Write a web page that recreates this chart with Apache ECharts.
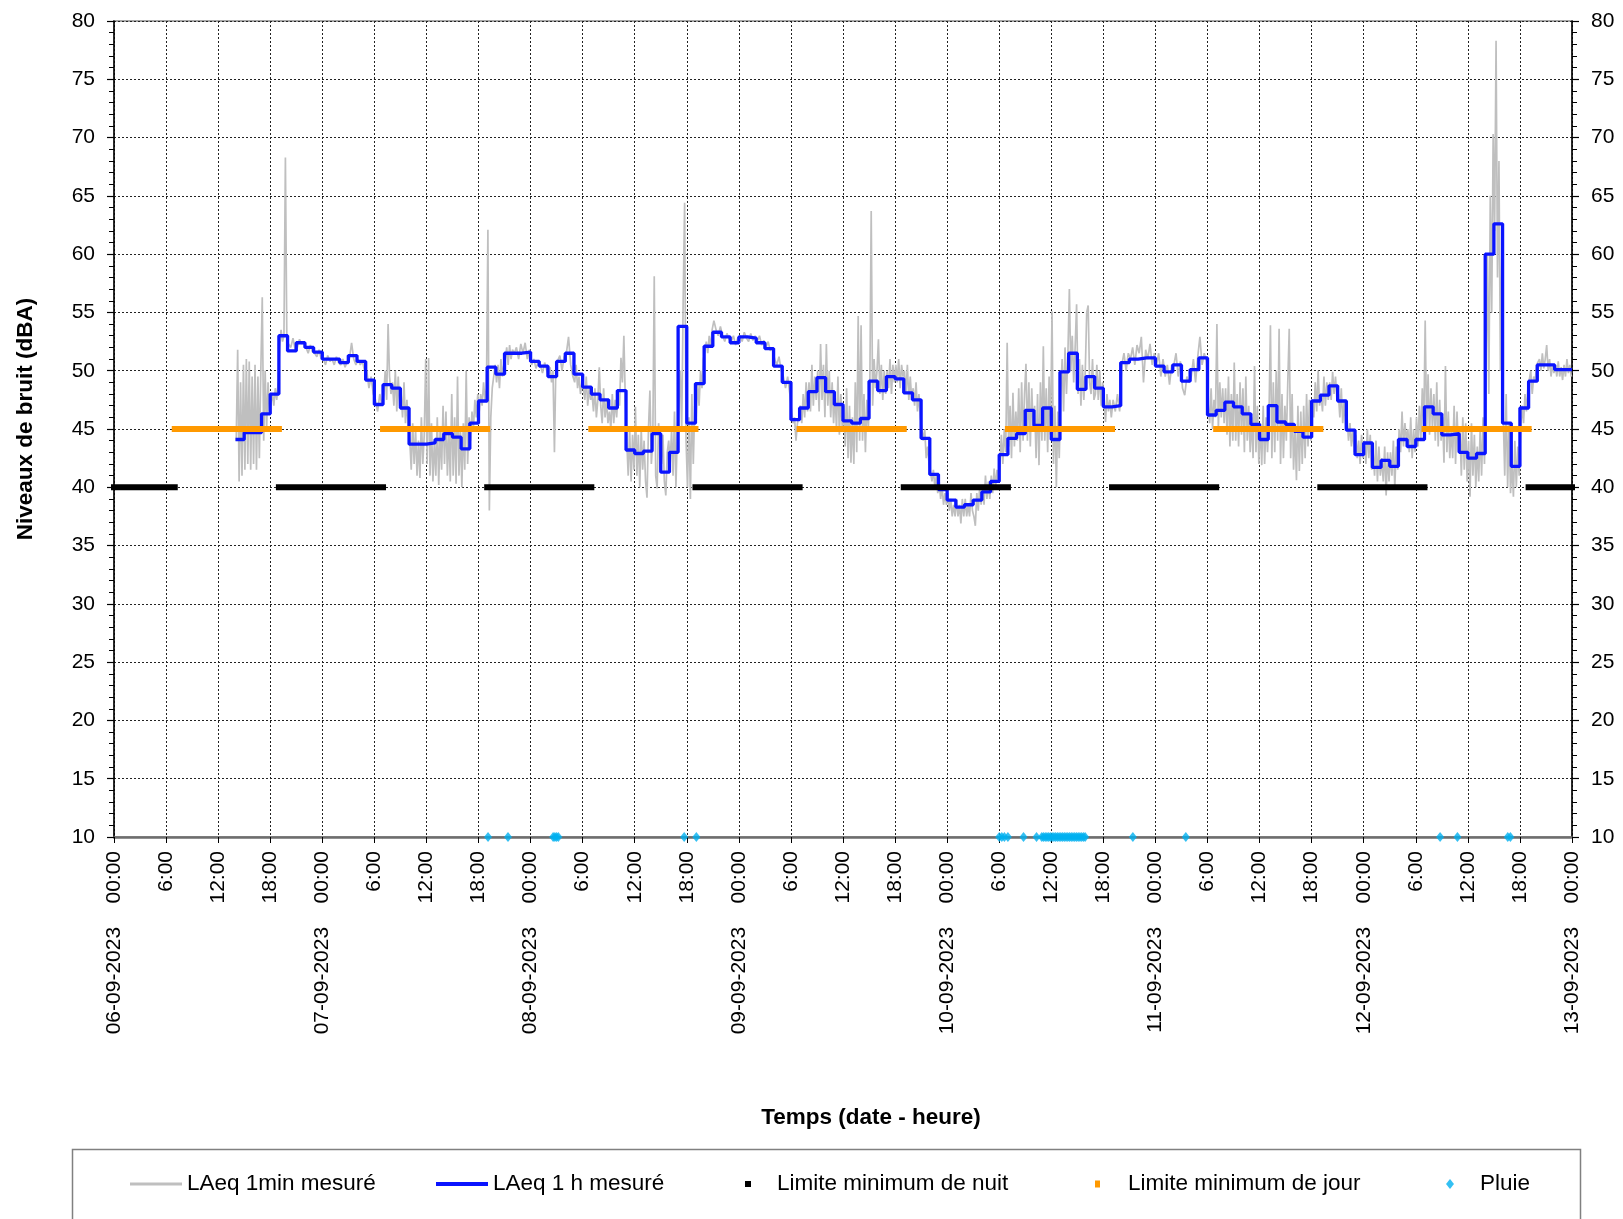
<!DOCTYPE html>
<html><head><meta charset="utf-8">
<script src="https://cdn.jsdelivr.net/npm/echarts@6/dist/echarts.min.js"></script>
<style>html,body{margin:0;padding:0;background:#fff}#c{width:1623px;height:1219px}</style>
</head><body><div id="c"></div>
<script>
// ---- tick labels ----
const dateLabels = ['06-09-2023','07-09-2023','08-09-2023','09-09-2023','10-09-2023','11-09-2023','12-09-2023','13-09-2023'];
const hourLabels = ['00:00','6:00','12:00','18:00'];

// ---- LAeq 1 h mesuré : hourly values, first value = hour 14 after 06-09-2023 00:00 ----
const laeq1hStart = 14;
const laeq1h = [
 44.1,44.7,44.7,46.3,48.0,53.0,51.7,52.4,52.0,51.6,
 51.0,51.0,50.7,51.3,50.8,49.2,47.1,48.8,48.5,46.8,
 43.7,43.7,43.8,44.1,44.6,44.3,43.3,45.5,47.4,50.3,
 49.7,51.5,51.5,51.6,50.8,50.4,49.5,50.8,51.5,49.7,
 48.6,48.0,47.5,46.8,48.3,43.2,42.9,43.1,44.6,41.3,
 43.0,53.8,45.5,48.9,52.1,53.3,52.9,52.4,52.9,52.8,
 52.4,51.9,50.4,49.0,45.8,46.8,48.2,49.4,48.2,47.1,
 45.7,45.5,45.9,49.1,48.3,49.5,49.3,48.1,47.5,44.2,
 41.1,39.8,38.9,38.3,38.5,38.9,39.6,40.5,42.8,44.2,
 44.6,46.6,45.3,46.8,44.1,49.9,51.5,48.4,49.5,48.5,
 46.9,47.0,50.7,51.0,51.1,51.1,50.4,49.9,50.5,49.1,
 50.1,51.1,46.2,46.6,47.3,46.9,46.3,45.4,44.1,47.0,
 45.6,45.4,44.8,44.3,47.4,47.9,48.7,47.4,44.9,42.8,
 43.8,41.7,42.3,41.8,44.1,43.5,44.1,46.9,46.3,44.5,
 44.6,43.0,42.5,42.9,60.0,62.6,45.5,41.8,46.8,49.1,
 50.5,50.5,50.1,50.1
];

// ---- LAeq 1min mesuré : readings per hour (one row per hour, starting hour 14) ----
const laeq1minStart = 14;
const laeq1minRows = [
 [44,51.8,40.5,49,41,50.5],          //14
 [41.5,51,42,50.8,41.5,49.5],
 [42,50.5,41.5,49.5,42.5,50],
 [56.3,44,50,45,49,46.5],
 [46.5,48,47,48.5,47.5,49],
 [52,53.5,52.5,53,68.3,52.5],         //19
 [52.5,52,52.8,51.8],
 [52,52.7,52.3,52.5],
 [52,51.5,52.2,51.6],
 [51.5,51.2,51.8,51],
 [51,50.5,51.3,50.8],                 //24
 [51,50.5,51.2,50.7],
 [50.5,51,50.3,50.8],
 [51,52.4,51,50.5],
 [51,50.5,50.8,50],
 [50,48.5,49.5,48],                   //29
 [47.5,46.5,48,47],
 [48,50,47.5,54,49.5,48],
 [49,47,50,46.5,49.5,47],
 [48,46,49,45.5,47.5,45],
 [44,41.5,45.5,42,45,41],             //34
 [44,40.8,46,42,44.5,51],
 [42,51.1,41,45.5,40.5,44],
 [41,46,40.2,45,41.5,47],
 [42,46.5,41,45,40.5,48],
 [41,46,40.3,49.5,41,45],             //39
 [40,45.5,41.5,50,42,46],
 [44,46.5,45,47.5,46,48],
 [46.5,48,47,49,47.5,48.5],
 [62.1,38,46,48.5,49.5,50.5],
 [49,50.5,48.5,51,49.5,50.5],         //44
 [51,52,50.5,52.2,51,51.8],
 [51.5,52,51,52.3],
 [51.5,52.4,51,51.8],
 [50.5,51,50.2,50.8],
 [50.5,49.8,50.7,50],                 //49
 [49.5,50.3,49,50,43,50.5],
 [50.5,51.3,50,51.2],
 [51.5,52.9,50.5,49.5],
 [49,50.5,48.5,49.5,48,49],
 [48.5,47.5,49.5,47,48.5,47.5],       //54
 [48,46.5,48.5,46,47.5,50.3],
 [47,45.5,48.5,46,47.5,45.5],
 [46.5,45,48,45.5,47.5,46],
 [48,47,51.1,49,53,47.5],
 [44,41,45,40.5,44.5,41.5],           //59
 [46.9,41,44.5,40,45,41.5],
 [44,40.5,39.1,45,48.3,42],
 [44,58.1,41,39.9,45.5,44],
 [42,44.5,40.5,39.3,43,44],
 [42,45,41,46.5,40,45],               //64
 [47,50,45,56,64.4,44],
 [40,46,39,48,42,47],
 [46,49,47,50,48.5,51],
 [51,52.5,51.5,53,52,53.5],
 [54.3,53.5,53,53.8],                 //69
 [53,52.5,53.2,52.7],
 [52.5,53,52.2,52.8],
 [53,52.5,53.3,52.8],
 [52.5,53.2,52.6,53],
 [52.5,53,52.2,52.6],                 //74
 [52,52.5,51.7,52],
 [51,50.5,51.2,50],
 [49.5,48.5,49.5,48],
 [46.5,45.5,46,44,45.5,46],
 [47,45.5,48,46,49,46.5],             //79
 [49,46.5,50.5,47,49.5,47.5],
 [50,46.5,52.3,47.5,50.5,46],
 [52.3,47,50,46,49,45.5],
 [48,45,49.5,44.5,48,45],
 [47,43.5,48.5,42.5,47,42.1],         //84
 [46,42,49,43,54.7,44],
 [53.9,44,48,43,47.5,45],
 [48,63.7,47,51,48.5,50],
 [52.7,48,50.5,47.5,50,48],
 [50,48.5,51,48,50.5,49],             //89
 [50.5,49,51,48.5,50.5,49.5],
 [50,48,50.5,47.5,49.5,47.5],
 [48.5,47,49,46.5,48,46],
 [46,44,45,42.5,43.5,42],
 [42,40.5,41.5,40,41,39.5],           //94
 [40.5,39,40,38.5,39.5,38.5],
 [39.5,38,39,37.5,38.5,37.5],
 [39,37.5,38.5,36.9,39,37.5],
 [39,37.5,38.5,37.5,39.5,38],
 [37.5,36.7,39.5,38,40,38.5],         //99
 [40,38.5,41,39,40.5,39],
 [41,39.5,41.6,40,41.5,40.5],
 [42,44.5,42,45,43,52.4],
 [43.5,47,42.5,48.1,43.5,46.5],
 [44,48.5,43,49,44,48],               //104
 [50.6,44,49,43.5,48.5,45],
 [47,42.5,48,41.9,49,44],
 [52.1,44,48.5,43,49.5,44.5],
 [55.1,42,47,40,46.5,42.5],
 [48,51,46.5,52,48,51.5],             //109
 [57,50,53,49,52,55.7],
 [48,51,47,50.5,47.5,50],
 [55,55.6,49,48,51,47.5],
 [48,50.5,47.5,50,47,49],
 [47.5,45.6,48,46.5,47.5,46],         //114
 [47.5,46.5,48,46.5],
 [50.5,51.5,50,51.5],
 [51,52,50.5,52.2],
 [51.5,52.9,49,51.8],
 [51,52.3,50.5,51.5],                 //119
 [50.5,51.5,49.5,51],
 [49.5,50.5,48.8,50.5],
 [50.5,51.5,49.5,50.8],
 [48.5,47.9,49.5,49],
 [49.5,51,49,51.2],                   //124
 [52.9,50.5,51.5,50.8],
 [47,45.5,48.5,45,47.5,46],
 [54,45,49,46,48.5,45.5],
 [48.5,44.5,49.5,43.5,48,44],
 [50.7,44,48,43.5,49,44.5],           //129
 [48.5,43,49.5,44,47,43],
 [46,42.5,50.4,43,47,42],
 [45.5,41.9,47,42,46,43],
 [46,53.9,42.5,49,43,50],
 [44,53.6,42,48,42.5,47],             //134
 [44,49,53.6,42.5,48,41.5],
 [45,40.6,47,41.4,46.5,42],
 [47,42.5,48,43.5,47.5,44],
 [47.5,46,49,46.5,50,47],
 [48,46.5,49.5,47,49,47.5],           //139
 [49,47.5,49.9,48,49.5,47.5],
 [48,46,48.5,45.5,47.5,45],
 [46,44,45.5,43.5,45,43],
 [44.5,42.5,44,42,44.5,42.5],
 [44,42,45,42.5,44.5,41.5],           //144
 [43,41,44,40.5,43.5,41],
 [42.5,40.5,43.5,39.3,43,40.5],
 [43,41,44,40,43.5,41.5],
 [45,43,46.5,43.5,45.5,44],
 [45,43,46,42.5,45,43],               //149
 [46,43.5,47,44,48.5,45],
 [54.3,45,49.7,44.5,48.5,45],
 [48,44,49,43.5,47.5,44],
 [46,42.1,50.4,43,46.5,42.5],
 [45,42.5,47,42,46.5,43],             //154
 [45,41,46,41.5,45.5,40.5],
 [44,39.2,45.5,41,44.5,40],
 [43.5,40.5,45,41,46,42],
 [50,60,48,65,55,70.3],
 [62,78.3,58,68,50,60],               //159
 [46,41,48,40,45.5,39.5],
 [42,39.2,44,40,43.5,41],
 [45,47,45.5,48,46.5,48.5],
 [48.5,50,48,49.5,49,50.5],
 [50.5,51,50,51.5,50.2,51],           //164
 [52.2,50,51,49.5,50.5,49.8],
 [50.5,49.5,50.8,49.5,50.3,49.2],
 [50.5,49.5,51,49.8,50.5,49.5]        //167
];

// ---- limits ----
const nightLimit = 40;
const dayLimit = 45;
const nightPeriods = [[0,7],[19,31],[43,55],[67,79],[91,103],[115,127],[139,151],[163,168]];
const dayPeriods = [[7,19],[31,43],[55,67],[79,91],[103,115],[127,139],[151,163]];

// ---- rain (Pluie) markers, hours after 06-09-2023 00:00 ----
const rainLevel = 10;
const rainHours = [43.1,45.4,50.6,50.8,51.0,51.2,65.7,67.1,102.0,102.3,102.6,103.0,104.8,
 106.3,106.9,107.1,107.3,107.5,107.7,107.9,108.1,108.3,108.5,108.7,108.9,109.1,109.3,109.5,
 109.7,109.9,110.1,110.3,110.5,110.7,110.9,111.1,111.3,111.5,111.7,111.9,117.4,123.5,152.8,154.8,160.6,160.9];

// ---- build series data ----
const blueData = laeq1h.map((v,i)=>[laeq1hStart+i, v]);
blueData.push([laeq1hStart+laeq1h.length, laeq1h[laeq1h.length-1]]);
const greyData = [];
laeq1minRows.forEach((row,i)=>row.forEach((v,j)=>greyData.push([laeq1minStart+i+(j+0.5)/row.length, v])));
function segs(periods, level){const d=[];periods.forEach(p=>{d.push([p[0],level]);d.push([p[1],level]);d.push([p[1],'-']);});return d;}
const nightData = segs(nightPeriods, nightLimit);
const dayData = segs(dayPeriods, dayLimit);
const rainData = rainHours.map(h=>[h, rainLevel]);

const FONT = "'Liberation Sans', Arial, sans-serif";
const chart = echarts.init(document.getElementById('c'), null, {renderer:'canvas'});

const yAxisBase = {
  type:'value', min:10, max:80, interval:5,
  axisLine:{show:true, lineStyle:{color:'#000', width:1.5}},
  axisTick:{show:true, length:7, lineStyle:{color:'#000', width:1.2}},
  minorTick:{show:true, splitNumber:5, length:5, lineStyle:{color:'#000', width:1}},
  axisLabel:{color:'#000', fontSize:21, fontFamily:FONT, margin:19},
};

const legendBase = {orient:'horizontal', top:1171, padding:0, selectedMode:false,
  textStyle:{color:'#000', fontSize:22.5, fontFamily:FONT, lineHeight:26}};

chart.setOption({
  animation:false,
  backgroundColor:'#fff',
  grid:{left:114, right:51, top:21, bottom:382, show:true, borderColor:'#a6a6a6', borderWidth:2},
  xAxis:{
    type:'value', min:0, max:168, interval:6,
    axisLine:{show:true, onZero:false, lineStyle:{color:'#6e6e6e', width:2.5}},
    axisTick:{show:true, length:6, lineStyle:{color:'#000', width:1}},
    axisLabel:{rotate:90, margin:14, color:'#000', fontSize:21, fontFamily:FONT,
      formatter:function(v){const h=v%24; const d=Math.round((v-h)/24);
        if(h===0) return dateLabels[d]+'    '+hourLabels[0];
        return hourLabels[h/6];}},
    splitLine:{show:true, lineStyle:{color:'#222', width:1, type:[2,2]}}
  },
  yAxis:[
    Object.assign({}, yAxisBase, {position:'left', splitLine:{show:true, lineStyle:{color:'#222', width:1, type:[2,2]}}}),
    Object.assign({}, yAxisBase, {position:'right', splitLine:{show:false}})
  ],
  legend:[
    Object.assign({}, legendBase, {left:130, data:['LAeq 1min mesuré'], icon:'rect', itemWidth:52, itemHeight:3}),
    Object.assign({}, legendBase, {left:436, data:['LAeq 1 h mesuré'], icon:'rect', itemWidth:52, itemHeight:4}),
    Object.assign({}, legendBase, {left:745, data:['Limite minimum de nuit'], icon:'rect', itemWidth:6, itemHeight:6,
       textStyle:Object.assign({}, legendBase.textStyle, {padding:[0,0,0,21]})}),
    Object.assign({}, legendBase, {left:1095, data:['Limite minimum de jour'], icon:'rect', itemWidth:5, itemHeight:7,
       textStyle:Object.assign({}, legendBase.textStyle, {padding:[0,0,0,23]})}),
    Object.assign({}, legendBase, {left:1446, data:['Pluie'], icon:'diamond', itemWidth:8, itemHeight:10,
       textStyle:Object.assign({}, legendBase.textStyle, {padding:[0,0,0,21]})})
  ],
  graphic:[
    {type:'rect', left:70, top:1147, shape:{width:1508, height:100}, style:{fill:'none', stroke:'#808080', lineWidth:1.5}, z:-1},
    {type:'text', x:26, y:419, rotation:Math.PI/2, style:{text:'Niveaux de bruit (dBA)', fill:'#000', font:'bold 22.5px '+FONT, align:'center', verticalAlign:'middle'}},
    {type:'text', x:871, y:1118, style:{text:'Temps (date - heure)', fill:'#000', font:'bold 22.5px '+FONT, align:'center', verticalAlign:'middle'}}
  ],
  series:[
    {name:'LAeq 1min mesuré', type:'line', data:greyData, showSymbol:false, symbol:'none',
      lineStyle:{color:'#bfbfbf', width:1.7}, itemStyle:{color:'#bfbfbf'}, z:2},
    {name:'LAeq 1 h mesuré', type:'line', data:blueData, step:'end', showSymbol:false, symbol:'none',
      lineStyle:{color:'#0a14ff', width:3.3}, itemStyle:{color:'#0a14ff'}, z:3},
    {name:'Limite minimum de nuit', type:'line', data:nightData, showSymbol:false, symbol:'none', connectNulls:false,
      lineStyle:{color:'#000', width:6, cap:'square'}, itemStyle:{color:'#000'}, z:4},
    {name:'Limite minimum de jour', type:'line', data:dayData, showSymbol:false, symbol:'none', connectNulls:false,
      lineStyle:{color:'#ff9900', width:6, cap:'square'}, itemStyle:{color:'#ff9900'}, z:4},
    {name:'Pluie', type:'scatter', data:rainData, symbol:'diamond', symbolSize:[8,10],
      itemStyle:{color:'#00b0f0'}, z:5, clip:false}
  ]
});
</script></body></html>
